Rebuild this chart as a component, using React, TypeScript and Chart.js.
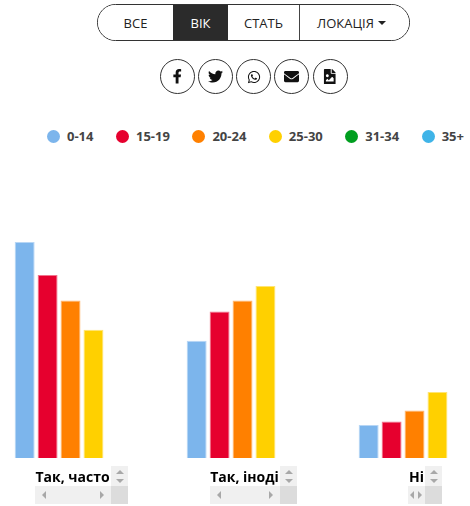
import React, { useEffect, useRef } from "react";
import { Chart, registerables } from "chart.js";

Chart.register(...registerables);

const categories = ["Так, часто", "Так, іноді", "Ні"];
const ageGroups = ["0-14", "15-19", "20-24", "25-30", "31-34", "35+"];
const ageColors = ["#7cb5ec", "#e6002e", "#ff8000", "#ffd000", "#009e1f", "#3fb4e8"];
const ageEdgeColors = [
  "rgba(124,181,236,0.55)",
  "rgba(230,0,46,0.55)",
  "rgba(255,128,0,0.55)",
  "rgba(255,208,0,0.55)",
  "rgba(0,158,31,0.55)",
  "rgba(63,180,232,0.55)",
];
const age0to14 = [59, 32, 9];
const age15to19 = [50, 40, 10];
const age20to24 = [43, 43, 13];
const age25to30 = [35, 47, 18];
const age31to34 = [null, null, null];
const age35plus = [null, null, null];
const seriesValues = [age0to14, age15to19, age20to24, age25to30, age31to34, age35plus];

const filterTabs = [
  { label: "ВСЕ", width: 75 },
  { label: "ВІК", width: 55, active: true },
  { label: "СТАТЬ", width: 72 },
  { label: "ЛОКАЦІЯ", width: 109, caret: true },
];

const FONT = "'Open Sans', sans-serif";

const shareIcons = [
  { size: 14.5, box: "0 0 320 512", d: "M279.14 288l14.22-92.66h-88.91v-60.13c0-25.35 12.42-50.06 52.24-50.06h40.42V6.26S260.43 0 225.36 0c-73.22 0-121.08 44.38-121.08 124.72v70.62H22.89V288h81.39v224h100.17V288z" },
  { size: 15, box: "0 0 512 512", d: "M459.37 151.716c.325 4.548.325 9.097.325 13.645 0 138.72-105.583 298.558-298.558 298.558-59.452 0-114.68-17.219-161.137-47.106 8.447.974 16.568 1.299 25.34 1.299 49.055 0 94.213-16.568 130.274-44.832-46.132-.975-84.792-31.188-98.112-72.772 6.498.974 12.995 1.624 19.818 1.624 9.421 0 18.843-1.3 27.614-3.573-48.081-9.747-84.143-51.98-84.143-102.985v-1.299c13.969 7.797 30.214 12.67 47.431 13.319-28.264-18.843-46.781-51.005-46.781-87.391 0-19.492 5.197-37.36 14.294-52.954 51.655 63.675 129.3 105.258 216.365 109.807-1.624-7.797-2.599-15.918-2.599-24.04 0-57.828 46.782-104.934 104.934-104.934 30.213 0 57.502 12.67 76.67 33.137 23.715-4.548 46.456-13.32 66.599-25.34-7.798 24.366-24.366 44.833-46.132 57.827 21.117-2.273 41.584-8.122 60.426-16.243-14.292 20.791-32.161 39.308-52.628 54.253z" },
  { size: 14, box: "0 0 448 512", d: "M380.9 97.1C339 55.1 283.2 32 223.9 32c-122.4 0-222 99.6-222 222 0 39.1 10.2 77.3 29.6 111L0 480l117.7-30.9c32.4 17.7 68.9 27 106.1 27h.1c122.3 0 224.1-99.6 224.1-222 0-59.3-25.2-115-67.1-157zm-157 341.6c-33.2 0-65.7-8.9-94-25.7l-6.7-4-69.8 18.3L72 359.2l-4.4-7c-18.5-29.4-28.2-63.3-28.2-98.2 0-101.7 82.8-184.5 184.6-184.5 49.3 0 95.6 19.2 130.4 54.1 34.8 34.9 56.2 81.2 56.1 130.5 0 101.8-84.9 184.6-186.6 184.6zm101.2-138.2c-5.5-2.8-32.8-16.2-37.9-18-5.1-1.9-8.8-2.8-12.5 2.8-3.7 5.6-14.3 18-17.6 21.8-3.2 3.7-6.5 4.2-12 1.4-32.6-16.3-54-29.1-75.5-66-5.7-9.8 5.7-9.1 16.3-30.3 1.8-3.7.9-6.9-.5-9.7-1.4-2.8-12.5-30.1-17.1-41.2-4.5-10.8-9.1-9.3-12.5-9.5-3.2-.2-6.9-.2-10.6-.2-3.7 0-9.7 1.4-14.8 6.9-5.1 5.6-19.4 19-19.4 46.3 0 27.3 19.9 53.7 22.6 57.4 2.8 3.7 39.1 59.7 94.8 83.8 35.2 15.2 49 16.5 66.6 13.9 10.7-1.6 32.8-13.4 37.4-26.4 4.6-13 4.6-24.1 3.2-26.4-1.3-2.5-5-3.9-10.5-6.6z" },
  { size: 15, box: "0 0 512 512", d: "M502.3 190.8c3.9-3.1 9.7-.2 9.7 4.7V400c0 26.5-21.5 48-48 48H48c-26.5 0-48-21.5-48-48V195.6c0-5 5.7-7.8 9.7-4.7 22.4 17.4 52.1 39.5 154.1 113.6 21.1 15.4 56.7 47.8 92.2 47.6 35.7.3 72-32.8 92.3-47.6 102-74.1 131.6-96.3 154-113.7zM256 320c23.2.4 56.6-29.2 73.4-41.4 132.7-96.3 142.8-104.7 173.4-128.7 5.8-4.5 9.2-11.5 9.2-18.9v-19c0-26.5-21.5-48-48-48H48C21.5 64 0 85.5 0 112v19c0 7.4 3.4 14.3 9.2 18.9 30.6 23.9 40.7 32.4 173.4 128.7 16.8 12.2 50.2 41.8 73.4 41.4z" },
  { size: 15.5, box: "0 0 384 512", d: "M384 121.941V128H256V0h6.059a24 24 0 0 1 16.97 7.029l97.941 97.941a24.002 24.002 0 0 1 7.03 16.971zM248 160c-13.2 0-24-10.8-24-24V0H24C10.745 0 0 10.745 0 24v464c0 13.255 10.745 24 24 24h336c13.255 0 24-10.745 24-24V160H248zm-135.455 16c26.51 0 48 21.49 48 48s-21.49 48-48 48-48-21.49-48-48 21.491-48 48-48zm208 240h-256l.485-48.485L104.545 328c4.686-4.686 11.799-4.201 16.485.485L160.545 368 264.06 264.485c4.686-4.686 12.284-4.686 16.971 0L320.545 304v112z" },
];

// Scroll chrome of the overflowing label boxes under each group.
const labelBoxes = [
  { left: 35, width: 93 },
  { left: 210, width: 87 },
  { left: 408, width: 34 },
];

function Arrow({ dir, x, y }: { dir: "up" | "down" | "left" | "right"; x: number; y: number }) {
  const horizontal = dir === "left" || dir === "right";
  const w = horizontal ? 4 : 8;
  const h = horizontal ? 8 : 4;
  const pts = {
    up: "0,4 4,0 8,4",
    down: "0,0 8,0 4,4",
    left: "4,0 4,8 0,4",
    right: "0,0 4,4 0,8",
  }[dir];
  return (
    <svg width={w} height={h} style={{ position: "absolute", left: x, top: y }}>
      <polygon points={pts} fill="#a8a8a8" />
    </svg>
  );
}

function ScrollChrome({ left, width }: { left: number; width: number }) {
  const sb = 17;
  const inner = width - sb;
  const narrow = inner < 30;
  return (
    <div style={{ position: "absolute", left, top: 466, width, height: 38 }}>
      <div style={{ position: "absolute", left: inner, top: 0, width: sb, height: 20, background: "#f0f0f0" }}>
        <Arrow dir="up" x={4.5} y={4} />
        <Arrow dir="down" x={4.5} y={13} />
      </div>
      <div style={{ position: "absolute", left: 0, top: 20, width: inner, height: 18, background: "#f0f0f0" }}>
        <Arrow dir="left" x={narrow ? 2 : 6.5} y={5} />
        <Arrow dir="right" x={narrow ? 10 : inner - 11.5} y={5} />
      </div>
      <div style={{ position: "absolute", left: inner, top: 20, width: sb, height: 18, background: "#dcdcdc" }} />
    </div>
  );
}

export default function App() {
  const canvasRef = useRef<HTMLCanvasElement>(null);

  useEffect(() => {
    const chart = new Chart(canvasRef.current!, {
      type: "bar",
      data: {
        labels: categories,
        datasets: ageGroups.map((name, i) => ({
          label: name,
          data: seriesValues[i],
          backgroundColor: ageColors[i],
          borderColor: ageEdgeColors[i],
          borderWidth: 1,
          categoryPercentage: 0.8,
          barPercentage: 0.87,
        })),
      },
      options: {
        animation: false,
        responsive: false,
        maintainAspectRatio: false,
        layout: { padding: 0 },
        plugins: { legend: { display: false }, tooltip: { enabled: false } },
        scales: {
          x: {
            grid: { display: false },
            border: { display: false },
            afterFit: (scale: any) => {
              scale.height = 48;
            },
            ticks: {
              autoSkip: false,
              maxRotation: 0,
              padding: 4,
              labelOffset: -9.5,
              color: "#000",
              font: { family: "'Open Sans', sans-serif", size: 14, weight: "bold" },
            },
          },
          y: { display: false, min: 0, max: 59.8 },
        },
      },
    });
    return () => chart.destroy();
  }, []);

  return (
    <div
      style={{
        position: "absolute",
        left: 0,
        top: 0,
        width: 470,
        height: 506,
        overflow: "hidden",
        background: "#fff",
        fontFamily: FONT,
      }}
    >
      <div
        style={{
          position: "absolute",
          left: 97,
          top: 4,
          width: 313,
          height: 37,
          boxSizing: "border-box",
          border: "1px solid #333",
          borderRadius: 18.5,
          overflow: "hidden",
          display: "flex",
          color: "#222",
          fontSize: 13,
        }}
      >
        {filterTabs.map((t, i) => (
          <div
            key={t.label}
            style={{
              width: t.width,
              boxSizing: "border-box",
              display: "flex",
              alignItems: "center",
              justifyContent: "center",
              paddingRight: t.caret ? 6 : 0,
              background: t.active ? "#2b2b2b" : "#fff",
              color: t.active ? "#fff" : "#222",
              borderRight: i === 2 ? "1px solid #444" : "none",
            }}
          >
            {t.label}
            {t.caret && (
              <span
                style={{
                  display: "inline-block",
                  marginLeft: 4,
                  borderTop: "4px solid #222",
                  borderLeft: "4px solid transparent",
                  borderRight: "4px solid transparent",
                }}
              />
            )}
          </div>
        ))}
      </div>

      {shareIcons.map((icon, i) => (
        <div
          key={i}
          style={{
            position: "absolute",
            left: 159.5 + i * 38.25,
            top: 59,
            width: 35,
            height: 35,
            boxSizing: "border-box",
            border: "1px solid #333",
            borderRadius: "50%",
            display: "flex",
            alignItems: "center",
            justifyContent: "center",
          }}
        >
          <svg width={icon.size} height={icon.size} viewBox={icon.box}>
            <path d={icon.d} fill="#111" />
          </svg>
        </div>
      ))}

      <div
        style={{
          position: "absolute",
          left: 47,
          top: 127,
          height: 18,
          display: "flex",
          alignItems: "center",
          fontSize: 13,
          fontWeight: 700,
          color: "#444",
          whiteSpace: "nowrap",
        }}
      >
        {ageGroups.map((name, i) => (
          <div key={name} style={{ display: "flex", alignItems: "center", marginRight: 22.5 }}>
            <span
              style={{
                width: 13,
                height: 13,
                borderRadius: "50%",
                background: ageColors[i],
                marginRight: 7,
              }}
            />
            {name}
          </div>
        ))}
      </div>

      <canvas
        ref={canvasRef}
        width={516}
        height={267}
        style={{ position: "absolute", left: -4, top: 239, width: 516, height: 267 }}
      />

      {labelBoxes.map((b) => (
        <ScrollChrome key={b.left} left={b.left} width={b.width} />
      ))}
    </div>
  );
}
